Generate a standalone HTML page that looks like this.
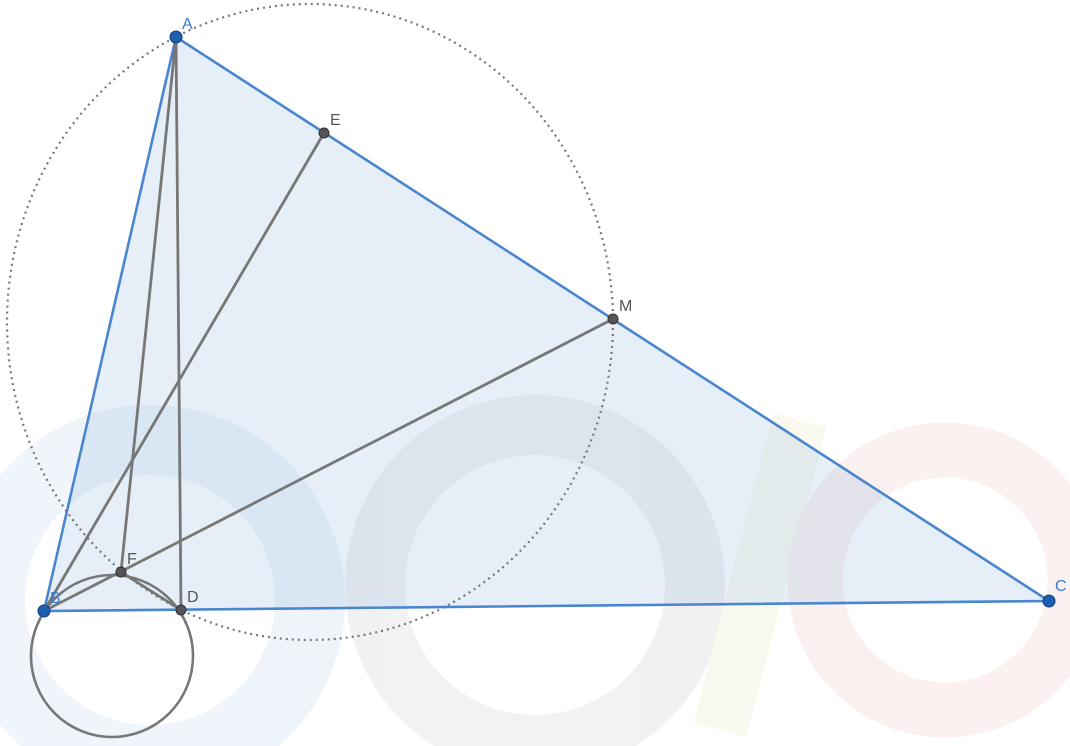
<!DOCTYPE html>
<html><head><meta charset="utf-8"><style>
html,body{margin:0;padding:0;background:#fff;}
svg{display:block;font-family:"Liberation Sans",sans-serif;}
</style></head><body>
<svg id="fig" width="1070" height="746" viewBox="0 0 1070 746">
<g fill="none" opacity="0.45">
<circle cx="150" cy="600" r="160" stroke="#dce8f6" stroke-width="70"/>
<circle cx="535" cy="585" r="160" stroke="#e2e2e2" stroke-width="60"/>
<line x1="800" y1="420" x2="720" y2="730" stroke="#f6f3dc" stroke-width="55"/>
<circle cx="945" cy="580" r="130" stroke="#f8e0e0" stroke-width="55"/>
</g>
<g id="geo"></g>
</svg>
<script>
const pointNames=["A","B","C","D","E","F","M"];
const pointX=[176,44,1049,181,324,121,613];
const pointY=[37,611,601,610,133,572,319];
const segments=[["A","F"],["A","D"],["B","E"],["B","M"],["F","D"]];
const P=n=>{const i=pointNames.indexOf(n);return [pointX[i],pointY[i]];};
const g=document.getElementById('geo');
const NS="http://www.w3.org/2000/svg";
function mk(t,a){const e=document.createElementNS(NS,t);for(const k in a)e.setAttribute(k,a[k]);g.appendChild(e);return e;}
const [ax,ay]=P("A"),[bx,by]=P("B"),[cx,cy]=P("C");
let tri=mk("polygon",{points:`${ax},${ay} ${bx},${by} ${cx},${cy}`,fill:"rgba(140,180,225,0.22)",stroke:"#4a86d0","stroke-width":2.6});


let circ=mk("ellipse",{cx:310,cy:322,rx:303,ry:318,fill:"none",stroke:"#777","stroke-width":2.2,"stroke-dasharray":"2 4"});


let sc=mk("circle",{cx:112,cy:656,r:81,fill:"none",stroke:"#777","stroke-width":2.6});


segments.forEach(s=>{const [x1,y1]=P(s[0]),[x2,y2]=P(s[1]);
const l=mk("line",{x1,y1,x2,y2,stroke:"#777","stroke-width":2.8});

});
const blue=["A","B","C"];
const lblOff={A:[6,-12],B:[6,-12],C:[6,-14],D:[6,-12],E:[6,-12],F:[6,-12],M:[6,-12]};
pointNames.forEach(n=>{const [x,y]=P(n);const isB=blue.includes(n);
const c=mk("circle",{cx:x,cy:y,r:isB?6:5,fill:isB?"#1f5fb0":"#555",stroke:isB?"#0d3d80":"#333","stroke-width":1});


const t=mk("text",{x:x+lblOff[n][0],y:y+lblOff[n][1]+4,"font-size":16,fill:isB?"#3a7bd0":"#555"});
t.textContent=n;

});
</script>
</body></html>
